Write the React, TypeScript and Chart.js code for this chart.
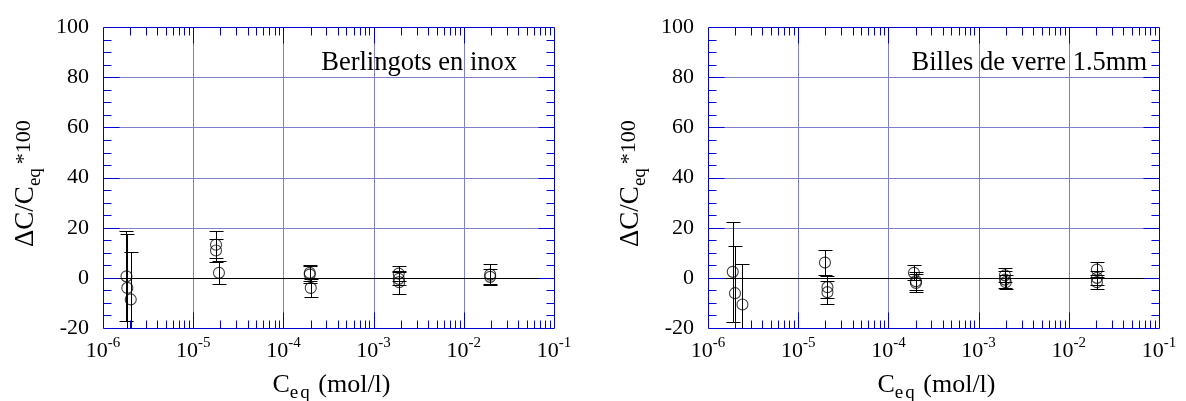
import React, { useEffect, useRef } from 'react';
import { Chart, registerables } from 'chart.js';

Chart.register(...registerables);

// ---------- data ----------
const xMin = 1e-6;
const xMax = 1e-1;
const yMin = -20;
const yMax = 100;
const yStep = 20;
const decadeExponents = [-6, -5, -4, -3, -2, -1];

const inoxLabel = 'Berlingots en inox';
const inoxX = [1.82e-6, 1.86e-6, 2.03e-6, 1.79e-5, 1.79e-5, 1.93e-5, 1.96e-4, 1.96e-4, 2.01e-4, 1.9e-3, 1.9e-3, 1.92e-3, 1.96e-2, 1.96e-2];
const inoxY = [0.6, -4.0, -8.6, 13.2, 10.9, 2.0, 2.0, 1.3, -4.0, 1.7, -0.4, -1.7, 1.3, 0.4];
const inoxErr = [18.0, 21.5, 19.0, 5.3, 4.6, 4.6, 3.2, 3.5, 3.5, 3.0, 2.6, 4.6, 4.3, 3.0];

const verreLabel = 'Billes de verre 1.5mm';
const verreX = [1.88e-6, 1.99e-6, 2.41e-6, 1.98e-5, 2.11e-5, 2.11e-5, 1.92e-4, 2.02e-4, 2.02e-4, 1.96e-3, 1.96e-3, 2.0e-3, 2.05e-2, 2.05e-2, 2.05e-2];
const verreY = [2.4, -6.1, -10.6, 6.1, -3.7, -5.7, 2.0, -1.3, -2.0, 1.0, -0.7, -1.7, 3.3, 0.0, -1.7];
const verreErr = [20.0, 18.7, 16.2, 5.0, 4.3, 4.6, 3.0, 3.6, 3.7, 2.8, 3.3, 2.9, 3.1, 2.9, 2.9];

// ---------- style ----------
const SERIF = '"Liberation Serif", "Times New Roman", Times, serif';
const FRAME = '#0000d0';
const GRID = '#8080c8';
const W = 1186;
const H = 401;

type Panel = {
  label: string;
  xs: number[];
  ys: number[];
  errs: number[];
  canvasLeft: number;
  canvasWidth: number;
  axisWidth: number;
  padRight: number;
  labelRight: number;
};

const panels: Panel[] = [
  { label: inoxLabel, xs: inoxX, ys: inoxY, errs: inoxErr, canvasLeft: 0, canvasWidth: 600, axisWidth: 103, padRight: 46, labelRight: 517 },
  { label: verreLabel, xs: verreX, ys: verreY, errs: verreErr, canvasLeft: 600, canvasWidth: 586, axisWidth: 108, padRight: 27, labelRight: 547 },
];

function decoPlugin(p: Panel) {
  return {
    id: 'deco',
    beforeDatasetsDraw(chart: any) {
      const { ctx, chartArea: a, scales } = chart;
      const x = scales.x;
      const y = scales.y;
      ctx.save();
      ctx.lineWidth = 1;
      // grid
      ctx.strokeStyle = GRID;
      ctx.beginPath();
      for (const e of decadeExponents) {
        const v = Math.pow(10, e);
        if (v <= xMin || v >= xMax) continue;
        const px = Math.round(x.getPixelForValue(v)) + 0.5;
        ctx.moveTo(px, a.top);
        ctx.lineTo(px, a.bottom);
      }
      for (let v = yMin + yStep; v < yMax; v += yStep) {
        if (v === 0) continue;
        const py = Math.round(y.getPixelForValue(v)) + 0.5;
        ctx.moveTo(a.left, py);
        ctx.lineTo(a.right, py);
      }
      ctx.stroke();
      // zero line
      ctx.strokeStyle = '#000';
      ctx.beginPath();
      const pz = Math.round(y.getPixelForValue(0)) + 0.5;
      ctx.moveTo(a.left, pz);
      ctx.lineTo(a.right + 1, pz);
      ctx.stroke();
      // error bars
      ctx.beginPath();
      ctx.rect(a.left, a.top, a.right - a.left, a.bottom - a.top);
      ctx.clip();
      ctx.strokeStyle = '#000';
      ctx.beginPath();
      for (let i = 0; i < p.xs.length; i++) {
        const px = Math.round(x.getPixelForValue(p.xs[i])) + 0.5;
        const top = Math.round(y.getPixelForValue(p.ys[i] + p.errs[i])) + 0.5;
        const bot = Math.round(y.getPixelForValue(p.ys[i] - p.errs[i])) + 0.5;
        ctx.moveTo(px, top);
        ctx.lineTo(px, bot);
        ctx.moveTo(px - 7, top);
        ctx.lineTo(px + 7, top);
        ctx.moveTo(px - 7, bot);
        ctx.lineTo(px + 7, bot);
      }
      ctx.stroke();
      ctx.restore();
    },
    afterDatasetsDraw(chart: any) {
      const { ctx, chartArea: a, scales } = chart;
      const x = scales.x;
      const y = scales.y;
      ctx.save();
      ctx.lineWidth = 1;
      ctx.strokeStyle = FRAME;
      ctx.beginPath();
      const L = Math.round(a.left) + 0.5;
      const R = Math.round(a.right) + 0.5;
      const T = Math.round(a.top) + 0.5;
      const B = Math.round(a.bottom) + 0.5;
      ctx.rect(L, T, R - L, B - T);
      // x ticks
      for (let d = -6; d < -1; d++) {
        for (let k = 1; k <= 9; k++) {
          const v = k * Math.pow(10, d);
          if (v <= xMin || v >= xMax) continue;
          const len = k === 1 ? 16 : 8;
          const px = Math.round(x.getPixelForValue(v)) + 0.5;
          ctx.moveTo(px, B);
          ctx.lineTo(px, B - len);
          ctx.moveTo(px, T);
          ctx.lineTo(px, T + len);
        }
      }
      // y ticks
      for (let v = yMin + 5; v < yMax; v += 5) {
        const len = v % 20 === 0 ? 16 : 8;
        const py = Math.round(y.getPixelForValue(v)) + 0.5;
        ctx.moveTo(L, py);
        ctx.lineTo(L + len, py);
        ctx.moveTo(R, py);
        ctx.lineTo(R - len, py);
      }
      ctx.stroke();

      // x tick labels with superscripts
      ctx.fillStyle = '#000';
      ctx.textBaseline = 'alphabetic';
      ctx.textAlign = 'left';
      for (const e of decadeExponents) {
        const v = Math.pow(10, e);
        const px = x.getPixelForValue(v);
        ctx.font = `22px ${SERIF}`;
        const wb = ctx.measureText('10').width;
        ctx.font = `15px ${SERIF}`;
        const exp = String(e);
        const we = ctx.measureText(exp).width;
        const x0 = px - (wb + we) / 2;
        ctx.font = `22px ${SERIF}`;
        ctx.fillText('10', x0, a.bottom + 28.5);
        ctx.font = `15px ${SERIF}`;
        ctx.fillText(exp, x0 + wb, a.bottom + 18.5);
      }

      // x title: C_eq (mol/l)
      {
        ctx.font = `26px ${SERIF}`;
        const w1 = ctx.measureText('C').width;
        const w3 = ctx.measureText(' (mol/l)').width;
        ctx.font = `19px ${SERIF}`;
        (ctx as any).letterSpacing = '2px';
        const w2 = ctx.measureText('eq').width;
        (ctx as any).letterSpacing = '0px';
        const cx = (a.left + a.right) / 2 + 3;
        const x0 = cx - (w1 + w2 + w3) / 2;
        const by = a.bottom + 63.5;
        ctx.font = `26px ${SERIF}`;
        ctx.fillText('C', x0, by);
        ctx.font = `19px ${SERIF}`;
        (ctx as any).letterSpacing = '2px';
        ctx.fillText('eq', x0 + w1, by + 6);
        (ctx as any).letterSpacing = '0px';
        ctx.font = `26px ${SERIF}`;
        ctx.fillText(' (mol/l)', x0 + w1 + w2, by);
      }

      // y title: ΔC/C_eq *100 (rotated)
      {
        ctx.save();
        ctx.translate(a.left - 70, 247);
        ctx.rotate(-Math.PI / 2);
        ctx.font = `27px ${SERIF}`;
        ctx.fillText('\u0394C/C', 0, 0);
        let off = ctx.measureText('\u0394C/C').width;
        ctx.font = `19px ${SERIF}`;
        ctx.fillText('eq', off, 7);
        off += ctx.measureText('eq').width + 4;
        ctx.font = `22px ${SERIF}`;
        ctx.fillText('*100', off, -3);
        ctx.restore();
      }

      // panel label
      ctx.font = `26.5px ${SERIF}`;
      ctx.textAlign = 'right';
      ctx.fillText(p.label, p.labelRight, 70);
      ctx.restore();
    },
  };
}

function PanelChart({ p }: { p: Panel }) {
  const ref = useRef<HTMLCanvasElement | null>(null);
  useEffect(() => {
    if (!ref.current) return;
    const chart = new Chart(ref.current, {
      type: 'scatter',
      data: {
        datasets: [
          {
            label: p.label,
            data: p.xs.map((xv, i) => ({ x: xv, y: p.ys[i] })),
            pointStyle: 'circle',
            pointRadius: 5.5,
            pointBorderWidth: 1.1,
            pointBackgroundColor: 'rgba(0,0,0,0)',
            pointBorderColor: 'rgba(0,0,0,0.75)',
            showLine: false,
          },
        ],
      },
      options: {
        animation: false,
        responsive: false,
        maintainAspectRatio: false,
        layout: { padding: { top: 27, right: p.padRight, left: 0, bottom: 0 } },
        plugins: { legend: { display: false }, tooltip: { enabled: false } },
        events: [],
        scales: {
          x: {
            type: 'logarithmic',
            min: xMin,
            max: xMax,
            grid: { display: false, drawTicks: false },
            border: { display: false },
            ticks: { display: false },
            afterFit: (s: any) => { s.height = 73; },
          },
          y: {
            type: 'linear',
            min: yMin,
            max: yMax,
            grid: { display: false, drawTicks: false },
            border: { display: false },
            ticks: {
              stepSize: yStep,
              padding: 14,
              color: '#000',
              font: { family: SERIF, size: 22 },
            },
            afterFit: (s: any) => { s.width = p.axisWidth; },
          },
        },
      },
      plugins: [decoPlugin(p)],
    } as any);
    return () => chart.destroy();
  }, [p]);
  return (
    <canvas
      ref={ref}
      width={p.canvasWidth}
      height={H}
      style={{ position: 'absolute', left: p.canvasLeft, top: 0, width: p.canvasWidth, height: H }}
    />
  );
}

export default function App() {
  return (
    <div style={{ position: 'absolute', left: 0, top: 0, width: W, height: H, background: '#fff', overflow: 'hidden' }}>
      {panels.map((p) => (
        <PanelChart key={p.label} p={p} />
      ))}
    </div>
  );
}
